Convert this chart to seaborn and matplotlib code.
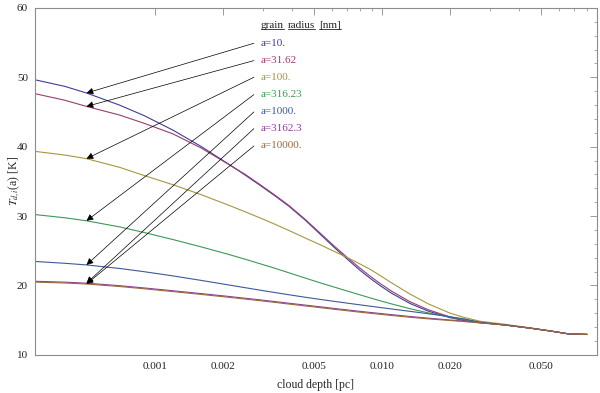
import numpy as np
import pandas as pd
import matplotlib
matplotlib.use("Agg")
import matplotlib.pyplot as plt
import seaborn as sns
from matplotlib.ticker import FixedLocator, NullFormatter
from matplotlib.lines import Line2D

depth = [0.0003, 0.0004, 0.0005, 0.0007, 0.0009, 0.0012, 0.0016, 0.0021, 0.0025, 0.0029,
         0.0034, 0.0039, 0.0046, 0.0053, 0.0062, 0.0072, 0.0080, 0.0089, 0.0098, 0.011,
         0.0133, 0.016, 0.020, 0.023, 0.027, 0.035, 0.045, 0.055, 0.067, 0.080]

# dust temperature [K] per grain radius
t_10 = [49.6, 48.7, 47.73, 45.98, 44.45, 42.39, 40.02, 37.54, 35.9, 34.45,
        32.85, 31.4, 29.4, 27.5, 25.4, 23.5, 22.2, 21.0, 20.0, 18.9,
        17.4, 16.3, 15.35, 14.95, 14.65, 14.3, 13.85, 13.45, 13.0, 12.95]
t_31 = [47.6, 46.7, 45.8, 44.55, 43.35, 41.85, 39.8, 37.5, 36.0, 34.55,
        32.95, 31.5, 29.5, 27.65, 25.6, 23.75, 22.5, 21.3, 20.3, 19.2,
        17.65, 16.5, 15.45, 15.0, 14.65, 14.3, 13.85, 13.45, 13.0, 12.95]
t_100 = [39.3, 38.8, 38.27, 37.02, 35.83, 34.52, 33.08, 31.6, 30.61, 29.75,
         28.78, 27.91, 26.83, 25.92, 24.87, 23.86, 23.1, 22.3, 21.45, 20.4,
         18.75, 17.35, 16.0, 15.4, 14.85, 14.4, 13.9, 13.45, 13.0, 12.95]
t_316 = [30.2, 29.76, 29.32, 28.44, 27.62, 26.62, 25.56, 24.5, 23.78, 23.14,
         22.45, 21.82, 21.06, 20.42, 19.74, 19.1, 18.65, 18.2, 17.8, 17.35,
         16.65, 16.05, 15.45, 15.1, 14.7, 14.3, 13.85, 13.45, 13.0, 12.95]
t_1000 = [23.45, 23.2, 22.96, 22.45, 21.98, 21.38, 20.73, 20.09, 19.68, 19.33,
          18.97, 18.66, 18.3, 18.01, 17.7, 17.41, 17.21, 17.01, 16.83, 16.62,
          16.27, 15.93, 15.49, 15.19, 14.7, 14.3, 13.85, 13.45, 13.0, 12.95]
t_3162 = [20.6, 20.48, 20.33, 19.97, 19.64, 19.24, 18.83, 18.43, 18.16, 17.93,
          17.67, 17.44, 17.17, 16.94, 16.68, 16.44, 16.27, 16.11, 15.97, 15.8,
          15.53, 15.29, 15.02, 14.86, 14.65, 14.3, 13.85, 13.45, 13.0, 12.95]
t_10000 = [20.48, 20.36, 20.21, 19.85, 19.52, 19.12, 18.71, 18.31, 18.04, 17.81,
           17.55, 17.32, 17.05, 16.82, 16.56, 16.32, 16.15, 15.99, 15.85, 15.68,
           15.42, 15.19, 14.95, 14.8, 14.6, 14.3, 13.85, 13.45, 13.0, 12.95]

labels = ["a=10.", "a=31.62", "a=100.", "a=316.23", "a=1000.", "a=3162.3", "a=10000."]
series = [t_10, t_31, t_100, t_316, t_1000, t_3162, t_10000]
colors = ["#3f3d99", "#993d71", "#a8963f", "#3d9956", "#3d5a99", "#8f3d99", "#99693d"]

rows = []
for lab, vals in zip(labels, series):
    for d, t in zip(depth, vals):
        rows.append({"depth": d, "T": t, "grain": lab})
df = pd.DataFrame(rows)

sns.set_theme(style="white")
plt.rcParams["font.family"] = ["Liberation Serif", "DejaVu Serif"]
plt.rcParams["mathtext.fontset"] = "stix"

fig = plt.figure(figsize=(6.0, 3.93), dpi=100)
ax = fig.add_axes([0.058, 0.097, 0.937, 0.883])

sns.lineplot(data=df, x="depth", y="T", hue="grain", palette=colors,
             hue_order=labels, legend=False, lw=0.8, ax=ax, sort=False)

ax.set_xscale("log")
ax.set_xlim(2.96e-4, 0.0885)
ax.set_ylim(10, 60)

frame = "#8c8c8c"
for s in ax.spines.values():
    s.set_color(frame)
    s.set_linewidth(0.8)

ax.xaxis.set_major_locator(FixedLocator([0.001, 0.002, 0.005, 0.01, 0.02, 0.05]))
ax.xaxis.set_minor_locator(FixedLocator([0.003, 0.004, 0.006, 0.007, 0.008, 0.009,
                                         0.03, 0.04, 0.06, 0.07, 0.08]))
ax.xaxis.set_minor_formatter(NullFormatter())
ax.set_xticklabels(["0.001", "0.002", "0.005", "0.010", "0.020", "0.050"])
ax.set_yticks([10, 20, 30, 40, 50, 60])
ax.yaxis.set_minor_locator(FixedLocator(np.arange(10, 60, 2)))
ax.tick_params(which="both", direction="in", top=True, right=True, color=frame,
               labelsize=8, labelcolor="#222222", pad=5)
ax.tick_params(which="major", length=5, width=0.6)
ax.tick_params(which="minor", length=2.5, width=0.5)

ax.set_xlabel("cloud depth [pc]", fontsize=8.5, labelpad=6)
ax.set_ylabel(r"$T_{d,i}$(a) [K]", fontsize=8.5)
ax.yaxis.set_label_coords(-0.022, 0.5)

# labels with arrows pointing at the curves
arrow_x = depth[2]
start_x = 2.73e-3
text_x = 2.93e-3
label_y = [54.9, 52.4, 50.0, 47.5, 45.0, 42.6, 40.1]
for lab, vals, col, ly in zip(labels, series, colors, label_y):
    ax.annotate("", xy=(arrow_x, vals[2]), xytext=(start_x, ly),
                arrowprops=dict(arrowstyle="-|>", lw=0.5, color="black",
                                mutation_scale=10, shrinkA=0, shrinkB=0))
    ax.text(text_x, ly, lab, color=col, fontsize=8, va="center", ha="left")

# underlined header words
fig.canvas.draw()
renderer = fig.canvas.get_renderer()
x_cur = ax.transData.transform((text_x, 57.45))
for word in ["grain", "radius", "[nm]"]:
    t = fig.text(x_cur[0] / 600, x_cur[1] / 393, word,
                 fontsize=8, va="center", ha="left", color="#222222")
    bb = t.get_window_extent(renderer)
    fig.add_artist(Line2D([bb.x0 / 600, bb.x1 / 600],
                          [(bb.y0 + 1) / 393, (bb.y0 + 1) / 393],
                          color="#222222", lw=0.6))
    x_cur = (bb.x1 + 4, x_cur[1])

fig.savefig("out.png", dpi=100)
